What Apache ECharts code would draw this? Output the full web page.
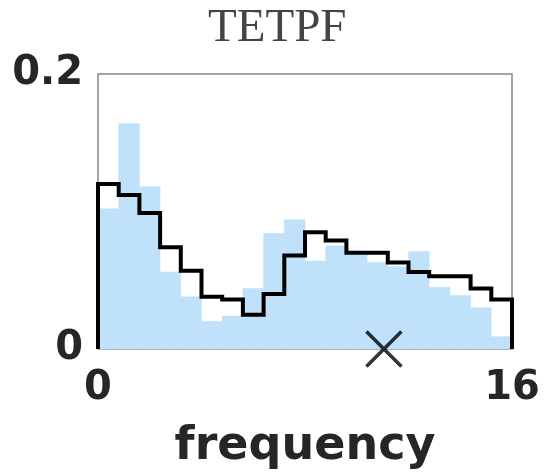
<!DOCTYPE html>
<html>
<head>
<meta charset="utf-8">
<script src="https://cdn.jsdelivr.net/npm/echarts@6/dist/echarts.min.js"></script>
<style>
html, body { margin: 0; padding: 0; background: #fff; }
#main { width: 545px; height: 475px; }
</style>
</head>
<body>
<div id="main"></div>
<script>
// histogram bins: 20 bins of width 0.8 between 0 and 16
var binEdges = [0, 0.8, 1.6, 2.4, 3.2, 4, 4.8, 5.6, 6.4, 7.2, 8, 8.8, 9.6, 10.4, 11.2, 12, 12.8, 13.6, 14.4, 15.2, 16];
// light blue filled histogram
var fillValues = [0.102, 0.164, 0.118, 0.056, 0.038, 0.020, 0.024, 0.044, 0.084, 0.094,
	0.064, 0.075, 0.069, 0.063, 0.060, 0.071, 0.045, 0.039, 0.030, 0.009];
// black outlined histogram
var stepValues = [0.120, 0.112, 0.099, 0.074, 0.057, 0.038, 0.036, 0.025, 0.040, 0.068,
	0.085, 0.079, 0.070, 0.070, 0.063, 0.056, 0.053, 0.053, 0.044, 0.036];
var markerX = [11.05];
var xTicks = [0, 16];
var yTicks = [0, 0.2];

var myChart = echarts.init(document.getElementById('main'));

var barData = [];
for (var i = 0; i < fillValues.length; i++) {
	barData.push([binEdges[i], binEdges[i + 1], fillValues[i]]);
}
// outline: up from 0, across each bin, down to 0 at the end
var stepData = [[binEdges[0], 0]];
for (var j = 0; j < stepValues.length; j++) {
	stepData.push([binEdges[j], stepValues[j]]);
	stepData.push([binEdges[j + 1], stepValues[j]]);
}
stepData.push([binEdges[binEdges.length - 1], 0]);

var tickFont = {
	fontFamily: 'DejaVu Sans',
	fontWeight: 'bold',
	fontSize: 40,
	color: '#262626'
};

var option = {
	animation: false,
	title: {
		text: 'TETPF',
		left: 203,
		top: 0,
		textStyle: {
			fontFamily: 'Liberation Serif',
			fontWeight: 'normal',
			fontSize: 47,
			color: '#444'
		}
	},
	grid: {
		left: 98,
		right: 33,
		top: 74,
		bottom: 118,
		show: true,
		borderColor: '#888',
		borderWidth: 1.5,
		backgroundColor: 'transparent'
	},
	xAxis: {
		type: 'value',
		min: xTicks[0],
		max: xTicks[1],
		interval: 16,
		name: 'frequency',
		nameLocation: 'middle',
		nameGap: 75,
		nameTextStyle: {
			fontFamily: 'DejaVu Sans',
			fontWeight: 'bold',
			fontSize: 46,
			color: '#262626'
		},
		axisLine: { show: false },
		axisTick: { show: false },
		splitLine: { show: false },
		axisLabel: Object.assign({ margin: 20 }, tickFont)
	},
	yAxis: {
		type: 'value',
		min: yTicks[0],
		max: yTicks[1],
		interval: 0.2,
		axisLine: { show: false },
		axisTick: { show: false },
		splitLine: { show: false },
		axisLabel: Object.assign({
			margin: 15,
			formatter: function(v) { return v === 0 ? '0' : v.toFixed(1); }
		}, tickFont)
	},
	series: [{
		type: 'custom',
		data: barData,
		encode: { x: [0, 1], y: 2 },
		renderItem: function(params, api) {
			var p0 = api.coord([api.value(0), api.value(2)]);
			var p1 = api.coord([api.value(1), 0]);
			return {
				type: 'rect',
				shape: { x: p0[0], y: p0[1], width: p1[0] - p0[0], height: p1[1] - p0[1] },
				style: { fill: '#bfe1fa', stroke: '#bfe1fa', lineWidth: 0.5 }
			};
		},
		z: 1
	}, {
		type: 'line',
		data: stepData,
		symbol: 'none',
		lineStyle: { color: '#000', width: 4, join: 'miter' },
		z: 3
	}, {
		type: 'scatter',
		data: [[markerX[0], 0]],
		symbol: 'path://M0,0L10,10M10,0L0,10',
		symbolSize: 35,
		itemStyle: { color: 'transparent', borderColor: '#000', borderWidth: 3.5 },
		z: 4
	}]
};

myChart.setOption(option);
</script>
</body>
</html>
